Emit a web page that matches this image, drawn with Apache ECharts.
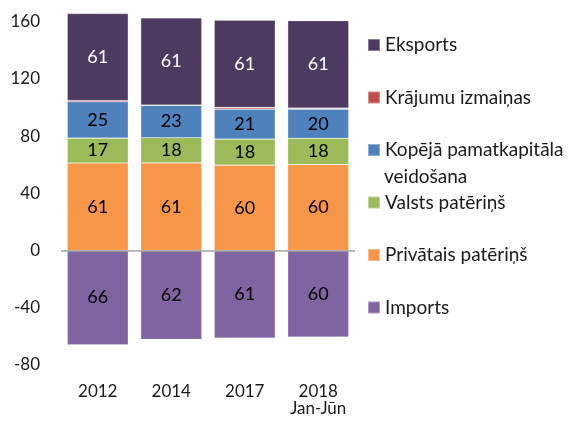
<!DOCTYPE html>
<html>
<head>
<meta charset="utf-8">
<script src="https://cdn.jsdelivr.net/npm/echarts@6/dist/echarts.min.js"></script>
<style>
  html, body { margin: 0; padding: 0; background: #fff; }
  #chart { width: 582px; height: 425px; }
</style>
</head>
<body>
<div id="chart"></div>
<script>
// kategorijas
let years = ['2012', '2014', '2017', '2018\nJan-Jūn'];

// komponentes, nolasītas no attēla
let privatais = [61.2, 61.3, 59.7, 60.1];
let valsts = [17.4, 17.6, 18.2, 18.4];
let kopeja = [25.4, 22.6, 21.0, 20.4];
let krajumu = [0.9, 0.2, 1.2, 0.7];
let eksports = [60.8, 61.0, 61.0, 61.1];
let imports = [-65.8, -62.1, -61.1, -60.4];

let yTicks = { min: -80, max: 160, step: 40 };

let names = {
	eks: 'Eksports',
	kra: 'Krājumu izmaiņas',
	kop: 'Kopējā pamatkapitāla veidošana',
	val: 'Valsts patēriņš',
	pri: 'Privātais patēriņš',
	imp: 'Imports'
};

let font = 'Lato, "Open Sans", sans-serif';
let legendFont = 19;

let chart = echarts.init(document.getElementById('chart'), null, { renderer: 'canvas' });

//etiķete bāra vidū, noapaļota
let lbl = color => ({
	show: true,
	position: 'inside',
	color: color,
	fontFamily: font,
	fontSize: 18,
	formatter: p => Math.round(Math.abs(p.value))
});

let bar = (name, data, color, labelColor) => ({
	name: name,
	type: 'bar',
	stack: 'all',
	barWidth: 61,
	clip: false,
	data: data,
	itemStyle: { color: color, borderColor: 'rgba(255,255,255,0.35)', borderWidth: 0.6 },
	label: labelColor ? lbl(labelColor) : { show: false },
	emphasis: { disabled: true }
});

//leģenda - katrs ieraksts atsevišķi, lai rindas stāvētu vienādā solī
let legendRows = [
	[names.eks, 45],
	[names.kra, 97.5],
	[names.kop, 150],
	[names.val, 202.5],
	[names.pri, 255],
	[names.imp, 307.5]
];
let legends = legendRows.map(([n, cy]) => ({
	data: [n],
	left: 367,
	top: cy - 11,
	padding: 0,
	itemWidth: 12,
	itemHeight: 12,
	itemGap: 0,
	icon: 'rect',
	selectedMode: false,
	//garajam nosaukumam otrā rinda ir atsevišķs teksts zemāk
	formatter: n === names.kop ? 'Kopējā pamatkapitāla' : '{name}',
	textStyle: { fontFamily: font, fontSize: legendFont, color: '#1a1a1a', lineHeight: 22 }
}));

let option = {
	animation: false,
	backgroundColor: '#fff',
	grid: { left: 61, right: 227, top: 21.7, bottom: 60 },
	legend: legends,
	graphic: [{
		type: 'text',
		left: 384,
		top: 177 - 11,
		silent: true,
		style: {
			text: 'veidošana',
			fill: '#1a1a1a',
			font: legendFont + 'px ' + font,
			lineHeight: 22
		}
	}],
	xAxis: {
		type: 'category',
		data: years,
		axisLine: { show: false, onZero: false },
		axisTick: { show: false },
		axisLabel: { color: '#1a1a1a', fontFamily: font, fontSize: 17, margin: 18, lineHeight: 17 }
	},
	yAxis: {
		type: 'value',
		min: yTicks.min,
		max: yTicks.max,
		interval: yTicks.step,
		splitLine: { show: false },
		axisLine: { show: false },
		axisTick: { show: false },
		axisLabel: { color: '#1a1a1a', fontFamily: font, fontSize: 17, margin: 21 }
	},
	series: [
		bar(names.pri, privatais, '#f79646', '#000'),
		bar(names.val, valsts, '#9bbb59', '#000'),
		bar(names.kop, kopeja, '#4f81bd', '#000'),
		bar(names.kra, krajumu, '#c0504d', null),
		bar(names.eks, eksports, '#4d3a61', '#fff'),
		Object.assign(bar(names.imp, imports, '#8064a2', '#000'), {
			markLine: {
				silent: true,
				symbol: 'none',
				label: { show: false },
				lineStyle: { color: '#a0a0a0', type: 'solid', width: 1.5 },
				data: [{ yAxis: 0 }]
			}
		})
	]
};

chart.setOption(option);
</script>
</body>
</html>
